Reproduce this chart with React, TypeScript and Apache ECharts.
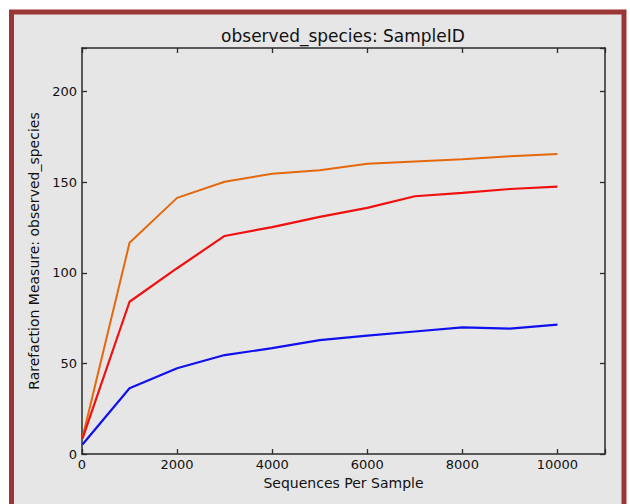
import React, { useEffect, useRef } from "react";
import * as echarts from "echarts";

const seqPerSample = [10, 1000, 2000, 3000, 4000, 5000, 6000, 7000, 8000, 9000, 10000];
const orangeSeries = [9, 116.5, 141.3, 150.2, 154.6, 156.5, 160.2, 161.4, 162.6, 164.3, 165.5];
const redSeries = [8.5, 84, 102.5, 120.3, 125.2, 130.8, 135.8, 142.2, 144.1, 146.2, 147.5];
const blueSeries = [5.2, 36.3, 47.3, 54.6, 58.4, 62.8, 65.3, 67.6, 69.9, 69.2, 71.4];
const titleText = "observed_species: SampleID";
const xName = "Sequences Per Sample";
const yName = "Rarefaction Measure: observed_species";

const FONT = "DejaVu Sans";
const AX = "#2a2a2a";

export default function App() {
  const ref = useRef<HTMLDivElement>(null);
  useEffect(() => {
    if (!ref.current) return;
    const chart = echarts.init(ref.current, null, { renderer: "svg" });
    const zip = (ys: number[]) => seqPerSample.map((x, i) => [x, ys[i]]);
    const axisLine = { show: true, onZero: false, lineStyle: { color: AX, width: 1.5 } };
    const tick = { show: true, inside: true, length: 5, lineStyle: { color: AX, width: 1.3 } };
    const labelStyle = { fontFamily: FONT, fontSize: 13, color: "#111" };
    chart.setOption({
      animation: false,
      backgroundColor: "#ffffff",
      textStyle: { fontFamily: FONT },
      graphic: [
        {
          type: "rect",
          z: -10,
          silent: true,
          shape: { x: 11.5, y: 12, width: 612.5, height: 500 },
          style: { fill: "#e6e6e6", stroke: "#9b3636", lineWidth: 5 },
        },
      ],
      title: {
        text: titleText,
        left: 338,
        top: 22,
        textAlign: "center",
        textStyle: { fontFamily: FONT, fontSize: 17, fontWeight: "normal", color: "#111" },
      },
      grid: { left: 82, right: 25, top: 48, bottom: 50, show: false },
      xAxis: [
        {
          type: "value",
          min: 0,
          max: 11000,
          interval: 2000,
          name: xName,
          nameLocation: "middle",
          nameGap: 19,
          nameTextStyle: { fontFamily: FONT, fontSize: 14, color: "#111" },
          axisLine,
          axisTick: tick,
          splitLine: { show: false },
          axisLabel: {
            margin: 4,
            ...labelStyle,
            formatter: (v: number) => (v % 2000 === 0 ? String(v) : ""),
          },
        },
        {
          type: "value",
          position: "top",
          min: 0,
          max: 11000,
          interval: 2000,
          axisLine,
          axisTick: tick,
          splitLine: { show: false },
          axisLabel: { show: false },
        },
      ],
      yAxis: [
        {
          type: "value",
          min: 0,
          max: 224,
          interval: 50,
          name: yName,
          nameLocation: "middle",
          nameGap: 39,
          nameTextStyle: { fontFamily: FONT, fontSize: 14, color: "#111" },
          axisLine,
          axisTick: tick,
          splitLine: { show: false },
          axisLabel: {
            margin: 5,
            ...labelStyle,
            formatter: (v: number) => (v % 50 === 0 ? String(v) : ""),
          },
        },
        {
          type: "value",
          position: "right",
          min: 0,
          max: 224,
          interval: 50,
          axisLine,
          axisTick: tick,
          splitLine: { show: false },
          axisLabel: { show: false },
        },
      ],
      series: [
        {
          type: "line",
          data: zip(orangeSeries),
          showSymbol: false,
          lineStyle: { color: "#e4680c", width: 2 },
          itemStyle: { color: "#e4680c" },
        },
        {
          type: "line",
          data: zip(redSeries),
          showSymbol: false,
          lineStyle: { color: "#f01010", width: 2.2 },
          itemStyle: { color: "#f01010" },
        },
        {
          type: "line",
          data: zip(blueSeries),
          showSymbol: false,
          lineStyle: { color: "#1010ee", width: 2.2 },
          itemStyle: { color: "#1010ee" },
        },
      ],
    });
    return () => chart.dispose();
  }, []);
  return (
    <div
      ref={ref}
      style={{ position: "fixed", left: 0, top: 0, width: 630, height: 504 }}
    />
  );
}
